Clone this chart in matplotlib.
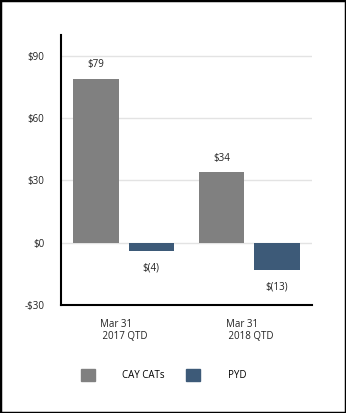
import numpy as np
import matplotlib
matplotlib.use('Agg')
import matplotlib.pyplot as plt
from matplotlib.patches import Patch, Rectangle

# Chart data
categories = ['Mar 31\n 2017 QTD', 'Mar 31\n 2018 QTD']
cay_cats = [79, 34]
pyd = [-4, -13]
cay_labels = ['$79', '$34']
pyd_labels = ['$(4)', '$(13)']
yticks = [-30, 0, 30, 60, 90]
ytick_labels = ['-$30', '$0', '$30', '$60', '$90']

gray = '#808080'
blue = '#3d5a78'

plt.rcParams['font.family'] = ['Open Sans', 'DejaVu Sans']

fig = plt.figure(figsize=(3.46, 4.13), dpi=100)
ax = fig.add_axes([0.176, 0.2615, 0.726, 0.6535])

x = np.arange(len(categories))
w = 0.36
off = 0.22
ax.bar(x - off, cay_cats, w, color=gray, zorder=2)
ax.bar(x + off, pyd, w, color=blue, zorder=2)

for i in range(len(categories)):
    ax.text(x[i] - off, cay_cats[i] + 4, cay_labels[i], ha='center', va='bottom', fontsize=7, color='#222222')
    ax.text(x[i] + off, pyd[i] - 5.5, pyd_labels[i], ha='center', va='top', fontsize=7, color='#222222')

ax.set_xlim(-0.5, 1.5)
ax.set_ylim(-30, 100)
ax.set_yticks(yticks)
ax.set_yticklabels(ytick_labels, fontsize=7, color='#222222')
ax.set_xticks(x)
ax.set_xticklabels(categories, fontsize=7, color='#222222', linespacing=1.1, multialignment='left')
ax.tick_params(axis='both', length=0, pad=12)
ax.tick_params(axis='x', pad=10)
ax.yaxis.grid(True, color='#e3e3e3', linewidth=1, zorder=0)
ax.set_axisbelow(True)
for s in ['top', 'right']:
    ax.spines[s].set_visible(False)
for s in ['left', 'bottom']:
    ax.spines[s].set_linewidth(1.5)
    ax.spines[s].set_color('black')

handles = [Patch(color=gray, label='CAY CATs'), Patch(color=blue, label='PYD')]
fig.legend(handles=handles, loc='center left', bbox_to_anchor=(81 / 346, 1 - 375 / 413),
           ncol=2, frameon=False, fontsize=7, handlelength=1.45, handleheight=1.45,
           handletextpad=2.8, columnspacing=2.2, borderpad=0, borderaxespad=0)

fig.patches.append(Rectangle((0, 0), 1, 1, transform=fig.transFigure, fill=False,
                             edgecolor='black', linewidth=2.5))

fig.savefig('out.png', dpi=100)
